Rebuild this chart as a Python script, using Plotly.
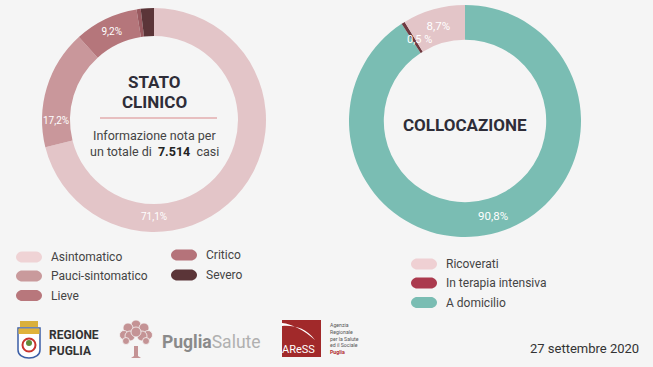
import plotly.graph_objects as go

W, H = 653, 367

# ---- data ----
stato_labels = ["Asintomatico", "Pauci-sintomatico", "Lieve", "Critico", "Severo"]
stato_values = [71.1, 17.2, 9.2, 0.6, 1.9]
stato_colors = ["#e3c5c8", "#c9979b", "#b5767b", "#9a5a60", "#5b3538"]
stato_legend_colors = ["#efd3d5", "#c99a9c", "#b8777c", "#b5737a", "#5b3538"]
stato_shown = [True, True, True, False, False]

coll_labels = ["Ricoverati", "In terapia intensiva", "A domicilio"]
coll_values = [8.7, 0.5, 90.8]
coll_colors = ["#e3c5c8", "#6e3a40", "#7abdb3"]
coll_legend_colors = ["#efd0d3", "#ab3a4e", "#7abdb3"]
coll_shown = [True, False, True]

totale = "7.514"
data_str = "27 settembre 2020"


def fmt(v):
    return f"{v:.1f}%".replace(".", ",")


def px(x):
    return x / W


def py(y):
    return 1 - y / H


FONT = "Roboto"

fig = go.Figure()

fig.add_trace(go.Pie(
    labels=stato_labels, values=stato_values, sort=False, direction="clockwise",
    rotation=0, hole=0.75,
    marker=dict(colors=stato_colors, line=dict(width=0)),
    text=[fmt(v) if s else "" for v, s in zip(stato_values, stato_shown)],
    textinfo="text", textposition="inside", insidetextorientation="horizontal",
    textfont=dict(family=FONT, size=10, color="white"),
    domain=dict(x=[px(154 - 112), px(154 + 112)], y=[py(232), py(8)]),
    showlegend=False, hoverinfo="label+percent",
))

# drawn clockwise from 12 o'clock in reverse order so Ricoverati sits left of the top
fig.add_trace(go.Pie(
    labels=coll_labels[::-1], values=coll_values[::-1], sort=False, direction="clockwise",
    rotation=0, hole=0.70,
    marker=dict(colors=coll_colors[::-1], line=dict(width=0)),
    text=[fmt(v) if s else "" for v, s in zip(coll_values[::-1], coll_shown[::-1])],
    textinfo="text", textposition="inside", insidetextorientation="horizontal",
    textfont=dict(family=FONT, size=11.5, color="white"),
    domain=dict(x=[px(465 - 116), px(465 + 116)], y=[py(237), py(5)]),
    showlegend=False, hoverinfo="label+percent",
))

annotations = []
shapes = []


def text(x, y, s, size=12, color="#444", xanchor="center", family=FONT, align="center"):
    annotations.append(dict(x=px(x), y=py(y), xref="paper", yref="paper", text=s,
                            showarrow=False, xanchor=xanchor, yanchor="middle", align=align,
                            font=dict(family=family, size=size, color=color)))


# small label for the thin slice
text(419, 39, fmt(coll_values[1]).replace("%", " %"), size=11, color="white")

# centre texts
text(154, 82, "<b>STATO</b>", size=17, color="#2e2d38")
text(154, 102, "<b>CLINICO</b>", size=17, color="#2e2d38")
shapes.append(dict(type="line", xref="paper", yref="paper", x0=px(100), x1=px(217),
                   y0=py(118), y1=py(118), line=dict(color="#d98a8c", width=1.2)))
text(154, 136, "Informazione nota per", size=12.5, color="#444")
text(154, 151, "un totale di&nbsp;&nbsp;<b><span style='color:#222'>" + totale +
     "</span></b>&nbsp;&nbsp;casi", size=12.5, color="#444")
text(465, 125, "<b>COLLOCAZIONE</b>", size=17, color="#2e2d38")

# legends with pill swatches
PILL = ("M -7,5.5 L 7,5.5 C 10,5.5 13,3 13,0 C 13,-3 10,-5.5 7,-5.5 L -7,-5.5 "
        "C -10,-5.5 -13,-3 -13,0 C -13,3 -10,5.5 -7,5.5 Z")


def pill(cx, cy, color):
    shapes.append(dict(type="path", xref="paper", yref="paper", xsizemode="pixel",
                       ysizemode="pixel", xanchor=px(cx), yanchor=py(cy), path=PILL,
                       fillcolor=color, line=dict(width=0)))


left_pos = [(29, 257), (29, 276), (29, 295.5), (184, 255), (184, 275)]
for (cx, cy), lab, col in zip(left_pos, stato_labels, stato_legend_colors):
    pill(cx, cy, col)
    text(cx + 20, cy, lab, size=12, color="#444", xanchor="left")

right_pos = [(424, 264), (424, 283), (424, 302.5)]
for (cx, cy), lab, col in zip(right_pos, coll_labels, coll_legend_colors):
    pill(cx, cy, col)
    text(cx + 20, cy, lab, size=12, color="#444", xanchor="left")

# date
text(641, 348, data_str, size=13, color="#333", xanchor="right")

# ---- logos ----
# Regione Puglia shield
shapes.append(dict(type="rect", xref="paper", yref="paper", x0=px(20), x1=px(38),
                   y0=py(327), y1=py(321), fillcolor="#d9b03c", line=dict(width=0)))
shapes.append(dict(type="path", xref="paper", yref="paper", xsizemode="pixel",
                   ysizemode="pixel", xanchor=px(29), yanchor=py(342),
                   path="M -11,14 L 11,14 L 11,-8 C 11,-13 6,-16 0,-16 C -6,-16 -11,-13 -11,-8 Z",
                   fillcolor="#ffffff", line=dict(color="#3b5ea6", width=1.5)))
shapes.append(dict(type="rect", xref="paper", yref="paper", x0=px(18.5), x1=px(39.5),
                   y0=py(334), y1=py(328.5), fillcolor="#e0b23a", line=dict(width=0)))
shapes.append(dict(type="circle", xref="paper", yref="paper", xsizemode="pixel",
                   ysizemode="pixel", xanchor=px(29), yanchor=py(345),
                   x0=-6.5, x1=6.5, y0=-6.5, y1=6.5, fillcolor="#ffffff",
                   line=dict(color="#c8332e", width=2)))
shapes.append(dict(type="circle", xref="paper", yref="paper", xsizemode="pixel",
                   ysizemode="pixel", xanchor=px(29), yanchor=py(343),
                   x0=-3, x1=3, y0=-3, y1=3, fillcolor="#5f8a3a", line=dict(width=0)))
text(47, 342.5, "<b>REGIONE<br>PUGLIA</b>", size=12, color="#333", xanchor="left",
     align="left")

# Puglia Salute tree
tree_col = "#c49395"
for dx, dy, r in [(0, -10, 5), (-8, -7, 5), (8, -7, 5), (-12, 0, 4.5), (12, 0, 4.5),
                  (-6, 1, 5), (6, 1, 5), (0, -3, 5), (-10, 6, 3.5), (10, 6, 3.5)]:
    shapes.append(dict(type="circle", xref="paper", yref="paper", xsizemode="pixel",
                       ysizemode="pixel", xanchor=px(136 + dx), yanchor=py(335 + dy),
                       x0=-r, x1=r, y0=-r, y1=r, fillcolor=tree_col,
                       line=dict(color="#f5f5f5", width=0.8)))
shapes.append(dict(type="path", xref="paper", yref="paper", xsizemode="pixel",
                   ysizemode="pixel", xanchor=px(136), yanchor=py(350),
                   path="M -2,4 L 2,4 L 2,-6 L 5,-8 L -5,-8 L -2,-6 Z",
                   fillcolor=tree_col, line=dict(width=0)))
text(160, 342, "<b>Puglia</b><span style='color:#b0b0b0'>Salute</span>", size=17.5,
     color="#8a8a8a", xanchor="left")

# ARESS
shapes.append(dict(type="rect", xref="paper", yref="paper", x0=px(282), x1=px(321),
                   y0=py(357), y1=py(320), fillcolor="#a1292a", line=dict(width=0)))
shapes.append(dict(type="path", xref="paper", yref="paper", xsizemode="pixel",
                   ysizemode="pixel", xanchor=px(282), yanchor=py(320),
                   path="M 0,-3 C 10,-4 22,-10 33,-20 C 24,-8 12,-5 0,-6 Z",
                   fillcolor="#ffffff", line=dict(width=0)))
text(298, 349, "AReSS", size=11, color="white", family="Roboto")
text(327.5, 338.5,
     "Agenzia<br>Regionale<br>per la Salute<br>ed il Sociale<br>"
     "<b><span style='color:#b02a2e'>Puglia</span></b>",
     size=5.2, color="#555", xanchor="left", align="left")

fig.update_layout(
    width=W, height=H, margin=dict(l=0, r=0, t=0, b=0),
    paper_bgcolor="#f5f5f5", plot_bgcolor="#f5f5f5",
    annotations=annotations, shapes=shapes, showlegend=False,
)

fig.write_html("out.html")
